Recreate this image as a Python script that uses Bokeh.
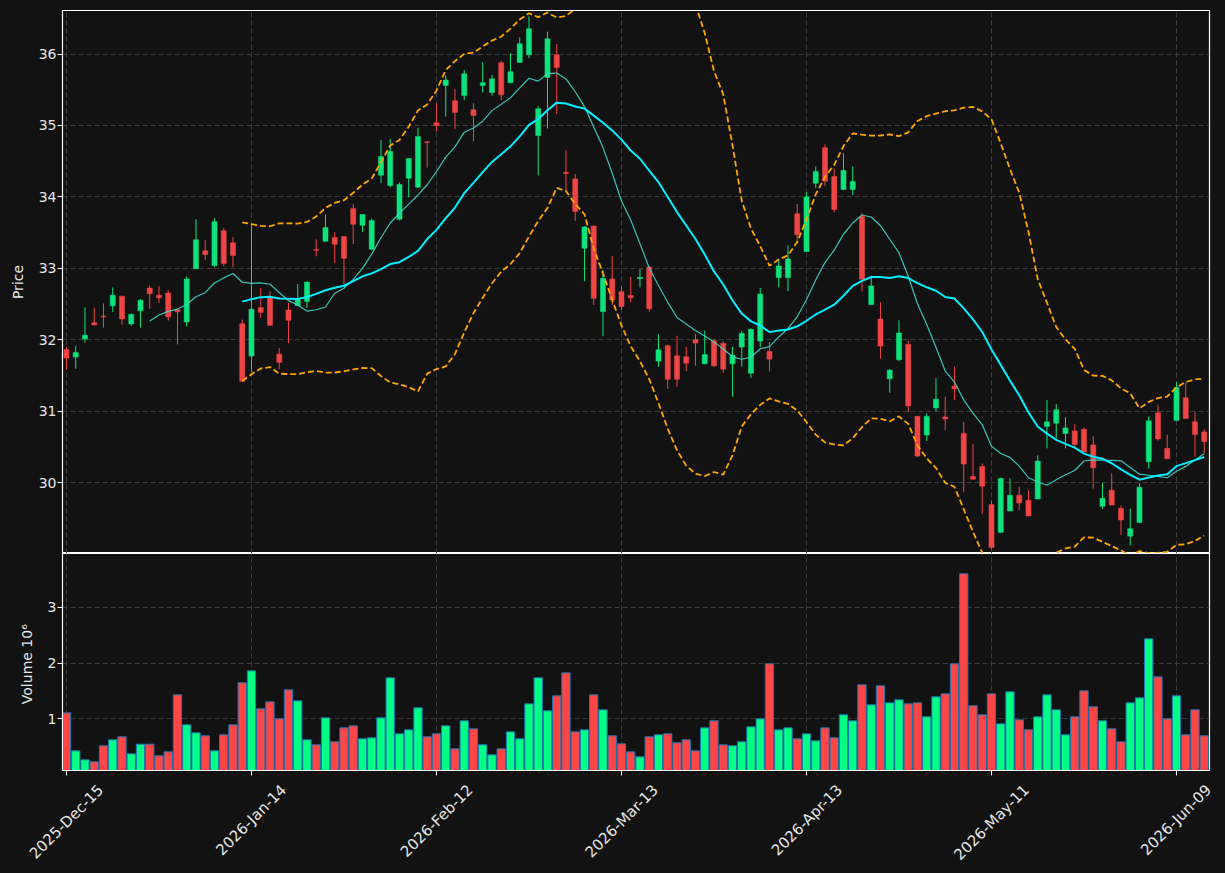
import math
import numpy as np
import pandas as pd
from bokeh.plotting import figure
from bokeh.layouts import column
from bokeh.models import Range1d, FixedTicker, ColumnDataSource, LinearAxis
from bokeh.embed import file_html
from bokeh.resources import INLINE

# ---------------- data ----------------
opens = [31.864, 31.756, 32.009, 32.239, 32.329, 32.474, 32.610, 32.221, 32.404, 32.723,
         32.624, 32.653, 32.423, 32.249, 32.995, 33.244, 33.038, 33.526, 33.357, 32.225,
         31.770, 32.449, 32.584, 31.799, 32.416, 32.477, 32.537, 33.262, 33.379, 33.430,
         33.444, 33.836, 33.603, 33.266, 34.304, 34.159, 33.687, 34.262, 34.136, 34.771,
         35.037, 35.561, 35.346, 35.421, 35.220, 35.561, 35.463, 35.879, 35.598, 35.883,
         35.991, 34.860, 35.673, 35.991, 34.346, 34.252, 33.280, 33.593, 32.393, 32.850,
         32.673, 32.620, 32.854, 33.019, 31.700, 31.915, 31.775, 31.761, 32.000, 31.662,
         31.986, 31.948, 31.662, 31.897, 31.531, 31.981, 31.836, 32.869, 32.869, 33.765,
         33.235, 34.192, 34.689, 34.286, 34.103, 34.103, 33.724, 32.492, 32.290, 31.452,
         31.719, 31.934, 30.927, 30.665, 31.044, 30.918, 31.349, 30.689, 30.084, 30.225,
         29.691, 29.302, 29.601, 29.822, 29.751, 29.770, 30.784, 30.831, 30.685, 30.723,
         30.746, 30.526, 29.667, 29.892, 29.638, 29.249, 29.441, 30.291, 30.977, 30.479,
         30.869, 31.188, 30.850, 30.709]
highs = [31.897, 31.915, 32.451, 32.451, 32.507, 32.732, 32.615, 32.360, 32.568, 32.761,
         32.751, 32.695, 32.430, 32.887, 33.690, 33.394, 33.704, 33.563, 33.437, 32.282,
         33.624, 32.724, 32.678, 31.883, 32.514, 32.780, 32.810, 33.407, 33.748, 33.505,
         33.450, 33.902, 33.752, 33.696, 34.799, 34.813, 34.201, 34.540, 34.967, 34.785,
         35.308, 35.701, 35.509, 35.776, 35.313, 35.888, 35.706, 35.907, 36.014, 36.234,
         36.528, 35.266, 36.313, 36.140, 34.654, 34.318, 33.589, 33.595, 32.977, 33.173,
         32.743, 32.883, 32.986, 33.022, 32.075, 31.930, 32.056, 31.901, 32.085, 32.127,
         32.000, 31.981, 31.901, 32.127, 32.155, 32.723, 31.967, 33.127, 33.319, 33.901,
         34.066, 34.426, 34.735, 34.398, 34.609, 34.426, 33.775, 32.895, 32.525, 31.593,
         32.272, 31.986, 30.930, 30.965, 31.461, 31.204, 31.625, 30.848, 30.543, 30.267,
         29.747, 30.070, 30.061, 29.944, 29.892, 30.380, 31.155, 31.099, 30.915, 30.817,
         30.770, 30.648, 29.995, 30.127, 29.676, 29.634, 29.991, 30.925, 31.085, 30.667,
         31.408, 31.404, 30.986, 30.746]
lows = [31.577, 31.592, 31.958, 32.200, 32.169, 32.390, 32.211, 32.192, 32.169, 32.432,
        32.516, 32.268, 31.934, 32.183, 32.990, 33.113, 33.019, 33.028, 33.014, 31.410,
        31.545, 32.304, 32.195, 31.589, 31.953, 32.470, 32.444, 33.168, 33.375, 33.075,
        32.734, 33.341, 33.509, 33.260, 34.196, 34.136, 33.668, 33.995, 34.130, 34.410,
        34.916, 35.126, 34.949, 35.355, 34.780, 35.463, 35.416, 35.355, 35.590, 35.880,
        35.944, 34.299, 34.958, 35.159, 34.075, 33.664, 32.818, 32.486, 32.049, 32.486,
        32.416, 32.521, 32.732, 32.394, 31.620, 31.310, 31.338, 31.559, 31.634, 31.660,
        31.620, 31.535, 31.202, 31.624, 31.465, 31.897, 31.554, 32.732, 32.681, 33.347,
        33.230, 34.126, 34.150, 33.785, 34.100, 34.023, 32.674, 32.490, 31.733, 31.255,
        31.696, 30.988, 30.356, 30.581, 30.998, 30.731, 31.152, 29.864, 30.040, 29.560,
        29.068, 29.300, 29.600, 29.610, 29.530, 29.770, 30.479, 30.620, 30.479, 30.479,
        30.420, 29.915, 29.629, 29.680, 29.268, 29.117, 29.440, 30.197, 30.587, 30.330,
        30.868, 30.890, 30.362, 30.408]
closes = [31.742, 31.822, 32.061, 32.207, 32.319, 32.624, 32.291, 32.357, 32.554, 32.643,
          32.587, 32.319, 32.390, 32.850, 33.399, 33.192, 33.653, 33.066, 33.178, 31.418,
          32.427, 32.383, 32.201, 31.682, 32.271, 32.570, 32.808, 33.252, 33.570, 33.336,
          33.140, 33.617, 33.752, 33.668, 34.565, 34.636, 34.173, 34.537, 34.846, 34.762,
          35.000, 35.636, 35.182, 35.724, 35.140, 35.598, 35.654, 35.430, 35.752, 36.145,
          36.355, 35.234, 36.215, 35.813, 34.327, 33.794, 33.579, 32.579, 32.860, 32.556,
          32.463, 32.587, 32.873, 32.432, 31.859, 31.446, 31.446, 31.671, 31.953, 31.793,
          31.634, 31.587, 31.784, 32.089, 32.146, 32.638, 31.728, 33.033, 33.131, 33.469,
          34.000, 34.356, 34.220, 33.822, 34.370, 34.215, 32.848, 32.754, 31.911, 31.574,
          32.094, 31.073, 30.370, 30.927, 31.166, 30.890, 31.311, 30.258, 30.047, 29.948,
          29.091, 30.056, 29.822, 29.714, 29.531, 30.300, 30.850, 31.019, 30.765, 30.531,
          30.427, 30.207, 29.779, 29.685, 29.474, 29.352, 29.934, 30.864, 30.610, 30.333,
          31.329, 30.897, 30.671, 30.573]
volumes_m = [1.108, 0.425, 0.263, 0.228, 0.515, 0.623, 0.677, 0.371, 0.545, 0.545,
             0.335, 0.407, 1.431, 0.892, 0.749, 0.695, 0.425, 0.713, 0.892, 1.647,
             1.862, 1.180, 1.305, 1.000, 1.521, 1.323, 0.623, 0.533, 1.018, 0.587,
             0.838, 0.874, 0.641, 0.659, 1.018, 1.737, 0.731, 0.802, 1.198, 0.677,
             0.731, 0.874, 0.461, 0.964, 0.820, 0.533, 0.353, 0.461, 0.766, 0.641,
             1.269, 1.737, 1.144, 1.413, 1.826, 0.766, 0.802, 1.431, 1.162, 0.695,
             0.551, 0.407, 0.317, 0.677, 0.713, 0.731, 0.569, 0.623, 0.425, 0.838,
             0.964, 0.533, 0.515, 0.587, 0.856, 1.000, 1.988, 0.802, 0.838, 0.641,
             0.731, 0.605, 0.838, 0.659, 1.072, 0.964, 1.611, 1.251, 1.593, 1.287,
             1.341, 1.269, 1.287, 1.036, 1.395, 1.449, 1.988, 3.605, 1.234, 1.072,
             1.449, 0.910, 1.485, 0.982, 0.802, 1.036, 1.431, 1.162, 0.713, 1.036,
             1.503, 1.216, 0.964, 0.820, 0.587, 1.287, 1.377, 2.437, 1.754, 1.000,
             1.413, 0.713, 1.162, 0.695]
tick_positions = [0, 20, 40, 60, 80, 100, 120]
tick_labels = ["2025-Dec-15", "2026-Jan-14", "2026-Feb-12", "2026-Mar-13",
               "2026-Apr-13", "2026-May-11", "2026-Jun-09"]
price_ticks = [30, 31, 32, 33, 34, 35, 36]
volume_ticks = [1, 2, 3]

# ---------------- derived ----------------
n = len(closes)
xs = list(range(n))
df = pd.DataFrame({"x": xs, "open": opens, "high": highs, "low": lows,
                   "close": closes, "vol": volumes_m})
df["up"] = df["close"] >= df["open"]
df["top"] = df[["open", "close"]].max(axis=1)
df["bot"] = df[["open", "close"]].min(axis=1)

BG = "#121212"
UP_C = "#0ee27c"
DN_C = "#f04545"
UP_V = "#00ff85"
DN_V = "#ff4646"
df["ccolor"] = np.where(df["up"], UP_C, DN_C)
df["vcolor"] = np.where(df["up"], UP_V, DN_V)

ma20 = df["close"].rolling(20).mean()
sd20 = df["close"].rolling(20).std(ddof=0)
ma10 = df["close"].rolling(10).mean()
df["ma20"] = ma20
df["ma10"] = ma10
df["bbu"] = ma20 + 2 * sd20
df["bbl"] = ma20 - 2 * sd20

src = ColumnDataSource(df)
src20 = ColumnDataSource(df.iloc[19:])
src10 = ColumnDataSource(df.iloc[9:])

FONT = "DejaVu Sans"
TXT = "#e6e6e6"
GRID = "#3c3c3c"

W = 1225
LEFT, RIGHT = 62, 16
xr = Range1d(-0.43, 123.57)
vol_range = Range1d(0.072, 3.97)
PPU = (W - LEFT - RIGHT) / (xr.end - xr.start)   # pixels per bar


def style(p):
    p.background_fill_color = BG
    p.border_fill_color = BG
    p.outline_line_color = "white"
    p.outline_line_width = 1.2
    p.xgrid.ticker = FixedTicker(ticks=tick_positions)
    for g in (p.xgrid, p.ygrid):
        g.grid_line_color = GRID
        g.grid_line_dash = "5 3"
        g.grid_line_width = 1
    for ax in p.yaxis:
        ax.axis_line_color = "white"
        ax.major_tick_line_color = "white"
        ax.minor_tick_line_color = None
        ax.major_tick_out = 5
        ax.major_tick_in = 0
        ax.major_label_text_color = TXT
        ax.major_label_text_font = FONT
        ax.major_label_text_font_size = "14px"
        ax.axis_label_text_color = TXT
        ax.axis_label_text_font = FONT
        ax.axis_label_text_font_size = "14px"
        ax.axis_label_text_font_style = "normal"
        ax.major_label_standoff = 1
        ax.axis_label_standoff = 10


# ---------------- price panel ----------------
p1 = figure(width=W, height=553, x_range=xr, y_range=Range1d(29.006, 36.61),
            output_backend="svg", toolbar_location=None,
            min_border_left=LEFT, min_border_right=RIGHT, min_border_top=10, min_border_bottom=0)
style(p1)
p1.xaxis.visible = False
p1.yaxis.ticker = FixedTicker(ticks=price_ticks)
p1.yaxis.axis_label = "Price"

p1.segment(x0="x", y0="low", x1="x", y1="high", source=src, line_color="ccolor", line_width=1)
p1.vbar(x="x", top="top", bottom="bot", width=0.55, source=src,
        fill_color="ccolor", line_color="ccolor", line_width=0.5)

p1.line(x="x", y="ma10", source=src10, line_color="#3fd6c8", line_width=1.2, line_alpha=0.9)
p1.line(x="x", y="ma20", source=src20, line_color="#00f0ff", line_width=2)
p1.line(x="x", y="bbu", source=src20, line_color="#ffa500", line_width=1.8, line_dash="6 3")
p1.line(x="x", y="bbl", source=src20, line_color="#ffa500", line_width=1.8, line_dash="6 3")

# ---------------- volume panel ----------------
p2 = figure(width=W, height=320, x_range=xr, y_range=vol_range,
            output_backend="svg", toolbar_location=None,
            min_border_left=LEFT, min_border_right=RIGHT, min_border_top=0,
            min_border_bottom=103)
style(p2)
p2.yaxis.ticker = FixedTicker(ticks=volume_ticks)
p2.yaxis.axis_label = "Volume  10\u2076"
p2.vbar(x="x", top="vol", bottom=0, width=0.9, source=src,
        fill_color="vcolor", line_color="#1f77b4", line_width=1)

# axis carrying the tick marks only
xa = p2.xaxis[0]
xa.ticker = FixedTicker(ticks=tick_positions)
xa.major_label_overrides = {t: "" for t in tick_positions}
xa.major_label_text_font_size = "1px"
xa.major_label_standoff = 0
xa.axis_line_color = "white"
xa.major_tick_line_color = "white"
xa.minor_tick_line_color = None
xa.major_tick_out = 5
xa.major_tick_in = 0

# second axis carrying the rotated date labels, each shifted so that the
# rotated text is centred on its tick (Bokeh right-aligns rotated labels)
FS = 15.0
ADV = {"0": .636, "1": .636, "2": .636, "3": .636, "4": .636, "5": .636, "6": .636,
       "7": .636, "8": .636, "9": .636, "-": .361, "D": .770, "e": .615, "c": .550,
       "J": .295, "a": .613, "n": .634, "F": .575, "b": .635, "M": .863, "r": .411,
       "A": .684, "p": .635, "y": .592, "u": .634}
shifted = []
for t, lab in zip(tick_positions, tick_labels):
    length = sum(ADV.get(ch, 0.6) for ch in lab) * FS
    shifted.append(round(t + 0.3536 * length / PPU, 3))
la = LinearAxis(ticker=FixedTicker(ticks=shifted),
                major_label_overrides={s: lab for s, lab in zip(shifted, tick_labels)})
la.major_label_orientation = math.pi / 4
la.axis_line_color = None
la.major_tick_line_color = None
la.minor_tick_line_color = None
la.major_tick_out = 0
la.major_tick_in = 0
la.major_label_standoff = 12
la.major_label_text_color = TXT
la.major_label_text_font = FONT
la.major_label_text_font_size = "15px"
p2.add_layout(la, "below")

layout = column(p1, p2, spacing=0, styles={"background-color": BG})
open("out.html", "w").write(file_html(layout, INLINE))
